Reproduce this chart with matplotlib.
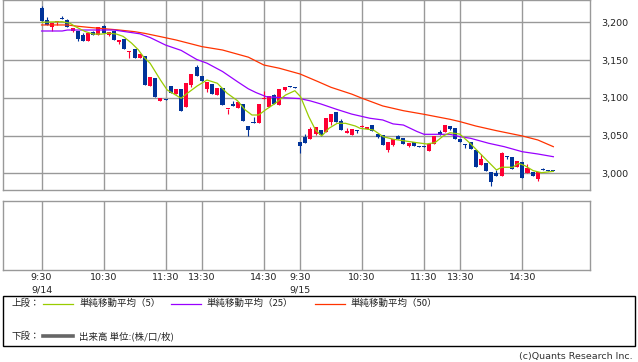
import matplotlib
matplotlib.use("Agg")
import matplotlib.pyplot as plt
import numpy as np
from matplotlib.transforms import blended_transform_factory
from matplotlib.lines import Line2D
from matplotlib.patches import Rectangle

# 5-minute candles, two sessions (9/14 and 9/15)
opens = [3219, 3203, 3193.6, 3200.7, 3206, 3203, 3189, 3188.8, 3184, 3176,
         3188, 3183.5, 3195.4, 3184, 3188.3, 3174.6, 3177.7, 3161.4, 3164.9, 3153.4,
         3155.6, 3116.3, 3126.4, 3096.4, 3099, 3115.8, 3105.2, 3111.8, 3088, 3117.2,
         3141.5, 3129.1, 3111.4, 3118.5, 3103.9, 3113.2, 3084.9, 3091.5, 3087, 3092,
         3062.8, 3068.5, 3067.2, 3098, 3088.4, 3103.9, 3091, 3110.5, 3115.4, 3115,
         3041.6, 3048.6, 3045, 3052.2, 3057, 3055.3, 3068, 3081.3, 3069.4, 3054,
         3050.8, 3057, 3061, 3058.4, 3064.1, 3052.6, 3050.4, 3030.9, 3037.1, 3050,
         3047.3, 3035.8, 3041.1, 3036.7, 3036.7, 3030, 3038.5, 3054.8, 3055.3, 3062.8,
         3060.1, 3046, 3038.9, 3042, 3031.4, 3011.1, 3014.1, 3001.8, 3000.9, 2996.9,
         3022.5, 3021.7, 3008, 3014.6, 3000.4, 3001.8, 2992.5, 3005.7, 3004, 3004]
highs = [3222, 3207, 3199.8, 3202, 3208.7, 3204.7, 3192.7, 3188.8, 3185.7, 3185.7,
         3189, 3193.6, 3196.3, 3187, 3188.3, 3176.8, 3177.7, 3162.8, 3164.9, 3158.3,
         3155.6, 3127.3, 3126.4, 3099.5, 3099, 3115.8, 3111.8, 3111.8, 3119.8, 3131.7,
         3143.7, 3129.1, 3120.7, 3118.5, 3113.2, 3113.2, 3085.8, 3096.4, 3094.6, 3092,
         3062.8, 3074.3, 3092, 3109, 3102.6, 3105.2, 3111.8, 3114, 3115.4, 3115,
         3041.6, 3052, 3061.9, 3061.5, 3057, 3073.8, 3078.7, 3081.3, 3072, 3060.5,
         3058.8, 3057, 3064, 3061.5, 3064.1, 3052.6, 3050.4, 3042, 3045.5, 3051.3,
         3047.3, 3040.7, 3041.1, 3036.7, 3036.7, 3039.3, 3049.5, 3057.5, 3064.1, 3062.8,
         3060.1, 3046, 3038.9, 3042, 3031.4, 3026, 3014.1, 3001.8, 3004.4, 3028.3,
         3022.5, 3021.7, 3015.9, 3014.6, 3011.9, 3001.8, 3001.3, 3006.6, 3004, 3004]
lows = [3202.5, 3197, 3188.8, 3197, 3204, 3194, 3187.7, 3176, 3176, 3176,
        3183.5, 3183.5, 3185.7, 3182, 3176.8, 3171.5, 3164.9, 3153.4, 3153.4, 3153.4,
        3117.2, 3116.3, 3101.2, 3096.4, 3097.7, 3106.1, 3105.2, 3082.7, 3088, 3115,
        3129.1, 3122.5, 3108.3, 3105.2, 3103.9, 3090.6, 3078.7, 3089.3, 3087, 3069.8,
        3049.5, 3066.3, 3067.2, 3098, 3088.4, 3091.5, 3091, 3109.2, 3114.5, 3113.6,
        3027.4, 3040.7, 3045, 3050.8, 3049, 3055.3, 3064, 3068, 3057, 3054,
        3050.8, 3053.5, 3061, 3058.4, 3056.6, 3046.4, 3038, 3028.3, 3035.8, 3046,
        3038.9, 3034.9, 3036.7, 3035.4, 3035.4, 3030, 3038.5, 3051.3, 3055.3, 3057.9,
        3045, 3042, 3033.6, 3032.3, 3008.8, 3011.1, 3003.1, 2983.6, 2996.9, 2996.9,
        3018.6, 3006.2, 3008, 2994.3, 3000.4, 2996.9, 2989.4, 3004.9, 3003.1, 3003.1]
closes = [3202.5, 3197, 3199.8, 3202, 3204, 3194, 3192.7, 3178.6, 3176, 3185.7,
          3183.5, 3193.6, 3185.7, 3187, 3176.8, 3176.8, 3164.9, 3162.8, 3153.4, 3158.3,
          3117.2, 3127.3, 3101.2, 3099.5, 3097.7, 3106.1, 3111.8, 3082.7, 3119.8, 3131.7,
          3129.1, 3122.5, 3120.7, 3105.2, 3113.2, 3090.6, 3085.8, 3089.3, 3094.6, 3069.8,
          3057.5, 3066.3, 3092, 3099.5, 3102.6, 3091.5, 3111.8, 3114, 3114.5, 3113.6,
          3036.7, 3040.7, 3058.4, 3061.5, 3051.3, 3073.8, 3078.7, 3068, 3057, 3056.1,
          3058.8, 3056.1, 3062.3, 3061.5, 3056.6, 3047.7, 3038, 3042, 3045.5, 3046,
          3038.9, 3040.7, 3036.7, 3035.4, 3035.4, 3039.3, 3049.5, 3051.3, 3064.1, 3059.2,
          3045, 3042, 3038, 3032.3, 3008.8, 3019, 3003.1, 2988.5, 2996.9, 3026.9,
          3021.2, 3006.2, 3015.9, 2994.3, 3006.6, 2996.9, 3001.3, 3004.9, 3003.1, 3003.1]

# moving averages (bar index, price)
ma5_x = [0, 4, 5.5, 6.5, 8.4, 10, 11.6, 12.9, 14.5, 15.8, 17.4, 18.7, 19.7, 21, 23,
         24.3, 25.6, 27, 28.2, 30.1, 32, 34, 35.9, 37.9, 39.4, 40.7, 42, 43.3, 45.2,
         47.2, 49, 50.1, 51.7, 53, 54.2, 55.6, 57.2, 58.8, 60.7, 61.6, 64.2, 66.1,
         68.1, 70, 72.6, 74.5, 76.1, 77.7, 79, 80.9, 82.9, 84.8, 86.4, 88, 89, 91.2,
         92.2, 93.5, 95.1, 96.7, 99]
ma5_y = [3200.3, 3201, 3199, 3194.7, 3188.1, 3184.6, 3184.6, 3185.9, 3184.6, 3181.5,
         3172.7, 3163.9, 3154.6, 3145.9, 3123.7, 3110.5, 3105.2, 3099.5, 3106.1, 3115.8,
         3123.7, 3119.4, 3106.1, 3096.3, 3084, 3077.3, 3077.3, 3084, 3092.8, 3103.8,
         3109.5, 3101.6, 3075, 3057.4, 3049.5, 3059.7, 3066.3, 3066.3, 3062.7, 3059.7,
         3057.4, 3048.5, 3045.1, 3043.2, 3040.6, 3038.9, 3040.6, 3049.5, 3053.8, 3052,
         3039.8, 3026.5, 3015.4, 3004.4, 3008, 3008, 3013.3, 3010.1, 3003.5, 3000.8,
         3002.6]
ma25_x = [0, 4, 5, 14, 16, 19, 21, 24, 27, 30, 32, 35, 38, 40, 41.5, 43.5, 46, 50,
          52, 54, 57, 60, 63.5, 66, 68, 70, 72.6, 74, 79, 81, 83, 86.5, 89.5, 93, 96, 99]
ma25_y = [3188.7, 3188.7, 3190, 3190, 3188, 3185, 3180, 3170, 3163, 3151, 3146,
          3135, 3121, 3112, 3107, 3101.5, 3100.5, 3099, 3096, 3092, 3085, 3078.5,
          3073, 3070.7, 3065.5, 3064, 3055.5, 3051.7, 3051.7, 3048.5, 3046.4, 3039.8,
          3035.3, 3028.6, 3025.6, 3022]
ma50_x = [0, 5, 7, 9, 15, 18, 20, 23, 26, 31, 35, 40, 43, 46, 50, 53.5, 56, 60, 62,
          66, 70, 74, 79, 81, 84, 88, 93, 96, 99]
ma50_y = [3196.7, 3196.7, 3195, 3193.6, 3190, 3187.8, 3185.5, 3181.2, 3176.8, 3168,
          3163.5, 3154, 3143.6, 3139.3, 3131.7, 3121.5, 3114, 3105, 3099.5, 3089.3,
          3083, 3078.2, 3071.6, 3068.4, 3062.7, 3056.5, 3049.5, 3044.2, 3035.3]

grid_idx = [0, 12, 24, 31, 43, 50, 62, 74, 81, 93]
time_labels = ["9:30", "10:30", "11:30", "13:30", "14:30",
               "9:30", "10:30", "11:30", "13:30", "14:30"]
date_idx = [0, 50]
date_labels = ["9/14", "9/15"]
price_ticks = [3000, 3050, 3100, 3150, 3200]

UP, DOWN = "#ff0033", "#003399"
GRID = "#999999"
CJK = ["Noto Sans CJK JP", "DejaVu Sans"]

W, H = 638, 362
fig = plt.figure(figsize=(W / 100, H / 100), dpi=100)


def fx(px):
    return px / W


def fy(py):
    return 1 - py / H


ax = fig.add_axes([fx(3.3), fy(190.3), fx(590.3) - fx(3.3), fy(0.3) - fy(190.3)])
ax2 = fig.add_axes([fx(3.3), fy(270.3), fx(590.3) - fx(3.3), fy(201) - fy(270.3)])

for a in (ax, ax2):
    a.set_xlim(-7.4, 106.15)
    a.set_xticks(grid_idx)
    a.set_xticklabels([])
    a.tick_params(axis="x", length=0)
    a.grid(True, axis="x", color=GRID, lw=1.0)
    for s in a.spines.values():
        s.set_color(GRID)
        s.set_linewidth(1.0)
    a.set_axisbelow(True)

ax.set_ylim(2977.45, 3229.4)
ax.yaxis.tick_right()
ax.set_yticks(price_ticks)
ax.set_yticklabels([f"{v:,}" for v in price_ticks], fontsize=6.8, color="#222222")
ax.tick_params(axis="y", length=0, pad=8)
ax.grid(True, axis="y", color=GRID, lw=1.0)

ax2.set_ylim(0, 1)
ax2.set_yticks([])

# candles
o = np.array(opens)
c = np.array(closes)
x = np.arange(len(o))
cols = [UP if cc >= oo else DOWN for oo, cc in zip(o, c)]
ax.vlines(x, lows, highs, colors=cols, lw=0.8, zorder=2)
body = np.maximum(np.abs(c - o), 1.4)
ax.bar(x, body, bottom=np.minimum(o, c), width=0.78, color=cols, lw=0, zorder=2)

ax.plot(ma50_x, ma50_y, color="#ff3300", lw=0.9, zorder=3)
ax.plot(ma25_x, ma25_y, color="#9900ff", lw=0.9, zorder=3)
ax.plot(ma5_x, ma5_y, color="#99cc00", lw=0.9, zorder=3)

# time / date labels under the lower panel
tr = blended_transform_factory(ax2.transData, fig.transFigure)
for i, lab in zip(grid_idx, time_labels):
    ax2.text(i, fy(278), lab, transform=tr, ha="center", va="center",
             fontsize=6.8, color="#222222")
for i, lab in zip(date_idx, date_labels):
    ax2.text(i, fy(290), lab, transform=tr, ha="center", va="center",
             fontsize=6.8, color="#222222")

# legend box
fig.add_artist(Rectangle((fx(3.3), fy(346.3)), fx(635) - fx(3.3), fy(295.7) - fy(346.3),
                         transform=fig.transFigure, fill=False, ec="black", lw=1.0))
fig.text(fx(11.7), fy(303.5), "上段：", family=CJK, fontsize=6.8, va="center", color="#222222")
fig.text(fx(11.7), fy(336), "下段：", family=CJK, fontsize=6.8, va="center", color="#222222")

leg = [(43.3, "#99cc00", "単純移動平均（5）"),
       (171, "#9900ff", "単純移動平均（25）"),
       (315, "#ff3300", "単純移動平均（50）")]
for x0, col, lab in leg:
    fig.add_artist(Line2D([fx(x0), fx(x0 + 30)], [fy(303.5)] * 2,
                          transform=fig.transFigure, color=col, lw=0.9))
    fig.text(fx(x0 + 35.7), fy(303.5), lab, family=CJK, fontsize=6.8,
             va="center", color="#222222")

fig.add_artist(Line2D([fx(43.3), fx(73.3)], [fy(336)] * 2,
                      transform=fig.transFigure, color="#666666", lw=2.6))
fig.text(fx(79), fy(336), "出来高 単位:(株/口/枚)", family=CJK, fontsize=6.8,
         va="center", color="#222222")

fig.text(fx(633), fy(357), "(c)Quants Research Inc.", ha="right", va="center",
         fontsize=6.8, color="#333333")

fig.savefig("out.png", dpi=100, facecolor="white")
